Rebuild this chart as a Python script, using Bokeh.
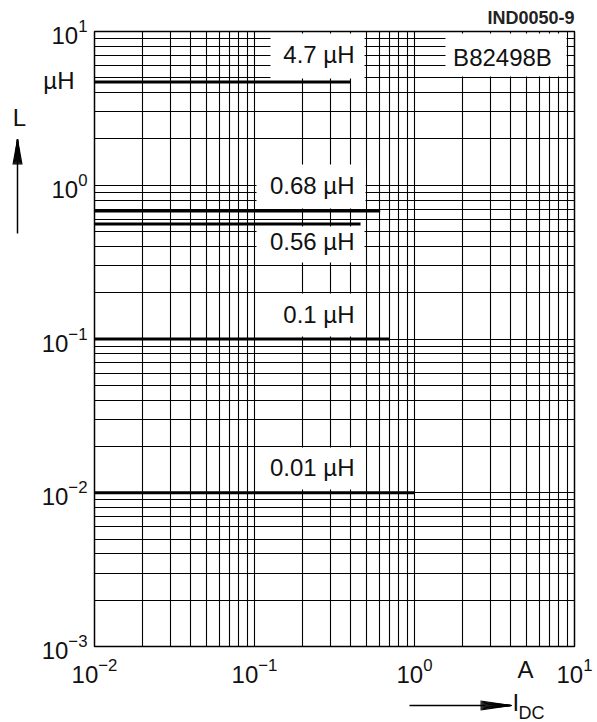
import numpy as np
from bokeh.plotting import figure
from bokeh.core.properties import value
from bokeh.models import FixedTicker, Label, BoxAnnotation, Range1d
from bokeh.embed import file_html
from bokeh.resources import INLINE

# ---------------- data ----------------
inductance_uH = [4.7, 0.68, 0.56, 0.1, 0.01]
max_current_A = [0.40, 0.61, 0.46, 0.70, 1.0]
curve_labels = ["4.7 µH", "0.68 µH", "0.56 µH", "0.1 µH", "0.01 µH"]
x_major_ticks = [0.01, 0.1, 1, 10]
y_major_ticks = [0.001, 0.01, 0.1, 1, 10]
part_number = "B82498B"
figure_id = "IND0050-9"

# ---------------- layout ----------------
W, H = 597, 722
FL, FR, FT, FB = 94, 574, 31, 646      # frame edges in canvas pixels
X0, X1 = 0.01, 10.0
Y0, Y1 = 0.001, 10.0
FONT = "Liberation Sans"
INK = "#111111"


def xd(px):
    """canvas x pixel -> data x"""
    lo, hi = np.log10(X0), np.log10(X1)
    return float(10 ** (lo + (px - FL) / (FR - FL) * (hi - lo)))


def yd(py):
    """canvas y pixel -> data y"""
    lo, hi = np.log10(Y0), np.log10(Y1)
    return float(10 ** (hi - (py - FT) / (FB - FT) * (hi - lo)))


def minors(majors):
    return [k * m for m in majors[:-1] for k in range(2, 10)]


p = figure(width=W, height=H, x_axis_type="log", y_axis_type="log",
           x_range=Range1d(X0, X1), y_range=Range1d(Y0, Y1),
           output_backend="svg", toolbar_location=None,
           min_border_left=FL, min_border_right=W - FR,
           min_border_top=FT, min_border_bottom=H - FB)
p.background_fill_color = "white"
p.border_fill_color = "white"
p.outline_line_color = "black"
p.outline_line_width = 1.5

xt = FixedTicker(ticks=x_major_ticks, minor_ticks=minors(x_major_ticks))
yt = FixedTicker(ticks=y_major_ticks, minor_ticks=minors(y_major_ticks))
p.xaxis[0].ticker = xt
p.yaxis[0].ticker = yt
p.xgrid[0].ticker = xt
p.ygrid[0].ticker = yt

for ax in (p.xaxis[0], p.yaxis[0]):
    ax.axis_line_color = None
    ax.major_tick_line_color = None
    ax.minor_tick_line_color = None
    ax.major_tick_in = 0
    ax.major_tick_out = 0
    ax.minor_tick_in = 0
    ax.minor_tick_out = 0
    ax.major_label_text_font = FONT
    ax.major_label_text_font_size = "24px"
    ax.major_label_text_color = INK
p.xaxis[0].major_label_standoff = 11
p.yaxis[0].major_label_standoff = 7

for g in (p.xgrid[0], p.ygrid[0]):
    g.grid_line_color = "black"
    g.grid_line_width = 1.1
    g.grid_line_alpha = 1.0
    g.minor_grid_line_color = "black"
    g.minor_grid_line_width = 1.1
    g.minor_grid_line_alpha = 1.0

# data lines: rated inductance up to rated current
n = len(inductance_uH)
p.segment(x0=[X0] * n, y0=inductance_uH, x1=max_current_A, y1=inductance_uH,
          line_color="black", line_width=3)

# white label boxes (canvas px: left, right, top, bottom) and text anchors
boxes = [(270, 364, 33, 78), (256, 365, 164, 208), (256, 364, 226, 262),
         (258, 365, 293, 336), (258, 365, 447, 489)]
text_y = [54, 185, 241, 314, 467]
for (l, r, t, b), ty, txt in zip(boxes, text_y, curve_labels):
    p.add_layout(BoxAnnotation(left=xd(l), right=xd(r), top=yd(t), bottom=yd(b),
                               fill_color="white", fill_alpha=1.0, line_color=None))
    p.add_layout(Label(x=xd(354), y=yd(ty), text=txt, text_align="right",
                       text_baseline="middle", text_font=FONT,
                       text_font_size="24px", text_color=INK))

p.add_layout(BoxAnnotation(left=xd(445), right=xd(566), top=yd(33), bottom=yd(76),
                           fill_color="white", fill_alpha=1.0, line_color=None))
p.add_layout(Label(x=xd(502), y=yd(57), text=part_number, text_align="center",
                   text_baseline="middle", text_font=FONT,
                   text_font_size="24px", text_color=INK))

# ---------- decorations outside the frame (overlay level is not clipped) ----------
def out_text(px, py, txt, size="24px", align="center", style="normal", color=INK):
    p.text(x=[xd(px)], y=[yd(py)], text=[txt], text_align=align,
           text_baseline="middle", text_font=value(FONT), text_font_size=size,
           text_font_style=style, text_color=color, level="overlay")

out_text(574, 17, figure_id, size="18px", align="right", style="bold", color="#222222")
out_text(74, 80, "µH", align="right")
out_text(19, 117, "L")
out_text(525, 669, "A")
out_text(512, 702, "I", align="left")
out_text(518, 712, "DC", size="18px", align="left")

# arrow shafts
p.segment(x0=[xd(17), xd(409)], y0=[yd(233), yd(705)],
          x1=[xd(17), xd(485)], y1=[yd(158), yd(705)],
          line_color="black", line_width=1.5, level="overlay")

# arrow heads: narrow filled triangles drawn as a fan of strokes from the tip
offsets = np.linspace(-4.5, 4.5, 10)
p.segment(x0=[xd(17)] * len(offsets), y0=[yd(139)] * len(offsets),
          x1=[xd(17 + o) for o in offsets], y1=[yd(164)] * len(offsets),
          line_color="black", line_width=1.2, level="overlay")
p.segment(x0=[xd(511)] * len(offsets), y0=[yd(705)] * len(offsets),
          x1=[xd(480)] * len(offsets), y1=[yd(705 + o) for o in offsets],
          line_color="black", line_width=1.2, level="overlay")

open("out.html", "w").write(file_html(p, INLINE))
